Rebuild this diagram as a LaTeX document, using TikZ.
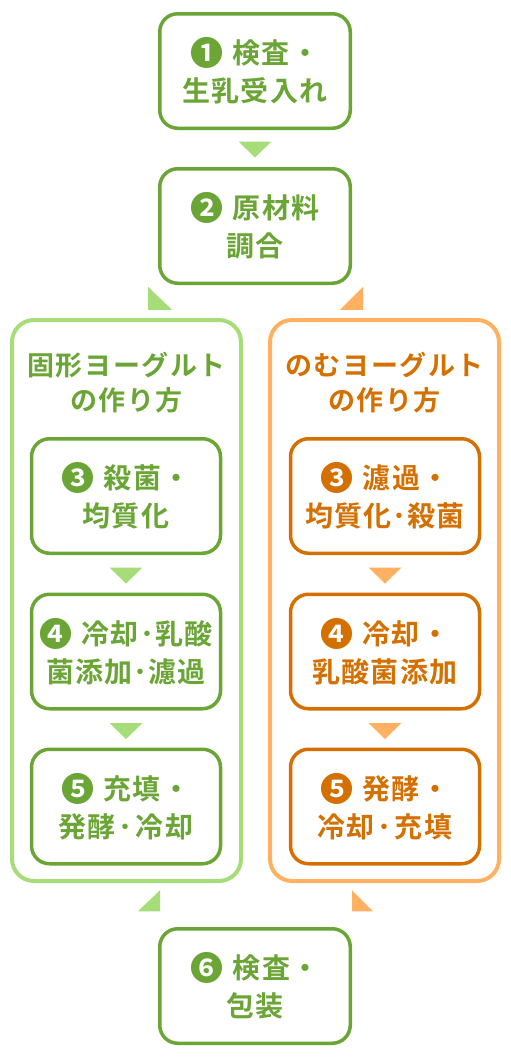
\documentclass[tikz,border=0pt]{standalone}
\usepackage{fontspec}
\usetikzlibrary{calc}
\newfontfamily\jp[LetterSpace=4]{Noto Sans CJK JP Bold}
\newfontfamily\jpt[LetterSpace=6]{Noto Sans CJK JP Bold}
\newfontfamily\jpd{Noto Sans CJK JP Bold}
\definecolor{dg}{HTML}{6AA536}
\definecolor{lg}{HTML}{A6DD78}
\definecolor{do}{HTML}{D47000}
\definecolor{lo}{HTML}{FFB060}
\newcommand{\cnum}[1]{\raisebox{-2pt}{\jpd\fontsize{33}{33}\selectfont #1}\hspace{9pt}}
\newcommand{\nd}{･}
\newcommand{\md}{\kern3pt･\kern3pt}
\tikzset{
  gbox/.style={draw=dg, line width=3.5pt, rounded corners=18pt, minimum width=190.5pt, minimum height=114.5pt, inner sep=0pt, text=dg, align=center, font=\jp\fontsize{28}{38}\selectfont},
  gin/.style={gbox, minimum width=189pt},
  oin/.style={gin, draw=do, text=do},
  panel/.style={line width=4pt, rounded corners=22pt, minimum width=229pt, minimum height=561pt, inner sep=0pt},
  ttl/.style={align=center, inner sep=0pt, font=\jpt\fontsize{27}{35}\selectfont},
}
\begin{document}
\begin{tikzpicture}[x=1pt,y=-1pt]
\useasboundingbox[fill=white] (0,0) rectangle (511,1060);
% panels
\node[panel, draw=lg] (pl) at (126.5,600.5) {};
\node[panel, draw=lo] (pr) at (384.5,600.5) {};
\node[ttl, text=dg] (tl) at (126.5,383) {固形ヨーグルト\\の作り方};
\node[ttl, text=do] (tr) at (384.5,383) {のむヨーグルト\\の作り方};
% main boxes
\node[gbox] (b1) at (255,71) {\cnum{❶}検査・\\生乳受入れ};
\node[gbox] (b2) at (255,226) {\cnum{❷}原材料\\調合};
\node[gbox] (b6) at (255,986) {\cnum{❻}検査・\\包装};
% left inner
\node[gin] (l3) at (126,496) {\cnum{❸}殺菌・\\均質化};
\node[gin] (l4) at (126,651.5) {\cnum{❹}冷却\nd 乳酸\\菌添加\nd 濾過};
\node[gin] (l5) at (126,806.5) {\cnum{❺}充填・\\発酵\md 冷却};
% right inner
\node[oin] (r3) at (385,496) {\cnum{❸}濾過・\\均質化\nd 殺菌};
\node[oin] (r4) at (385,651.5) {\cnum{❹}冷却・\\乳酸菌添加};
\node[oin] (r5) at (385,806.5) {\cnum{❺}発酵・\\冷却\md 充填};
% connectors (triangles)
\fill[lg] ($(b1.south)+(-16.5,11.5)$) -- ++(33,0) -- ++(-16.5,16) -- cycle;
\fill[lg] ($(l3.south)+(-16.5,12.5)$) -- ++(33,0) -- ++(-16.5,16) -- cycle;
\fill[lg] ($(l4.south)+(-16.5,12.5)$) -- ++(33,0) -- ++(-16.5,16) -- cycle;
\fill[lo] ($(r3.south)+(-16.5,12.5)$) -- ++(33,0) -- ++(-16.5,16) -- cycle;
\fill[lo] ($(r4.south)+(-16.5,12.5)$) -- ++(33,0) -- ++(-16.5,16) -- cycle;
\fill[lg] ($(b2.south)+(-107,1.75)$) -- ($(b2.south)+(-107,24.75)$) -- ($(b2.south)+(-83,24.75)$) -- cycle;
\fill[lo] ($(b2.south)+(108,1.75)$) -- ($(b2.south)+(108,24.75)$) -- ($(b2.south)+(85,24.75)$) -- cycle;
\fill[lg] ($(b6.north)+(-117,-15.75)$) -- ($(b6.north)+(-95,-36.75)$) -- ($(b6.north)+(-95,-15.75)$) -- cycle;
\fill[lo] ($(b6.north)+(97,-36.75)$) -- ($(b6.north)+(97,-15.75)$) -- ($(b6.north)+(118,-15.75)$) -- cycle;
\end{tikzpicture}
\end{document}
